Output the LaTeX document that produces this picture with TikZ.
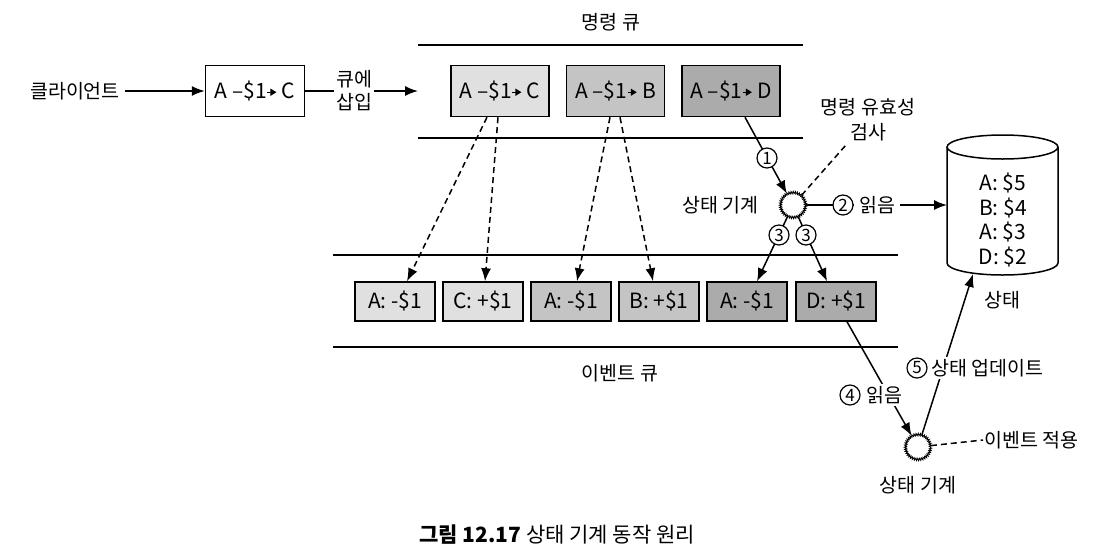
\documentclass[tikz,border=0pt]{standalone}
\usepackage{fontspec}
\setmainfont{Noto Sans CJK KR}
\usetikzlibrary{arrows.meta,decorations.pathmorphing}
\pgfdeclarelayer{bg}
\pgfsetlayers{bg,main}
\definecolor{lightg}{gray}{0.88}
\definecolor{medg}{gray}{0.77}
\definecolor{darkg}{gray}{0.67}
\newcommand\inarr{\tikz[baseline=-0.55ex]\draw[line width=1.2pt,-{Triangle[length=6pt,width=7pt]}] (0pt,0pt)--(9pt,0pt);}
\tikzset{
  kr/.style={font=\fontsize{19.5}{23}\selectfont},
  lat/.style={font=\fontsize{21}{25}\selectfont},
  box/.style={draw, line width=1.5pt, lat, inner sep=0pt},
  cmdbox/.style={box, minimum width=98pt, minimum height=51pt},
  evbox/.style={box, minimum width=80pt, minimum height=39pt},
  arr/.style={line width=1.5pt, -{Latex[length=13pt,width=10pt]}},
  dsh/.style={line width=1.5pt, dash pattern=on 6pt off 4pt},
  dsharr/.style={dsh, -{Latex[length=13pt,width=10pt]}},
  qline/.style={line width=1.6pt},
  circnum/.style={circle, draw, fill=white, minimum size=20pt, inner sep=0pt, line width=1.2pt, font=\fontsize{17}{17}\selectfont},
  spiky/.style={circle, draw, fill=white, minimum size=25pt, inner sep=0pt, line width=0.9pt, decorate, decoration={zigzag, segment length=2pt, amplitude=1.1pt}},
  wlab/.style={kr, fill=white, inner sep=2pt}
}
\begin{document}
\begin{tikzpicture}[x=1pt, y=-1pt]
\begin{pgfonlayer}{bg}
\fill[white] (0,0) rectangle (1110,558);
\end{pgfonlayer}
\useasboundingbox (0,0) rectangle (1110,558);

% client and first command
\node[kr, inner sep=5pt] (client) at (75,91) {클라이언트};
\node[box, minimum width=99pt, minimum height=51pt] (cmd0) at (255,91) {A –\$1\inarr{} C};
\node[kr, align=center, inner sep=2pt] (ins) at (354,91) {큐에\\삽입};
\coordinate (qin) at (418,91);

% command queue
\node[kr] (cmdq) at (611,22) {명령 큐};
\draw[qline] (418,45) -- (803,45);
\draw[qline] (418,138) -- (803,138);
\node[cmdbox, fill=lightg] (cC) at (500,91) {A –\$1\inarr{} C};
\node[cmdbox, fill=medg] (cB) at (615.5,91) {A –\$1\inarr{} B};
\node[cmdbox, fill=darkg] (cD) at (731,91) {A –\$1\inarr{} D};

% event queue
\draw[qline] (333,255) -- (898,255);
\draw[qline] (333,347) -- (898,347);
\node[kr] (evq) at (620,373) {이벤트 큐};
\node[evbox, fill=lightg] (e1) at (395,301.5) {A: -\$1};
\node[evbox, fill=lightg] (e2) at (483,301.5) {C: +\$1};
\node[evbox, fill=medg] (e3) at (571,301.5) {A: -\$1};
\node[evbox, fill=medg] (e4) at (659,301.5) {B: +\$1};
\node[evbox, fill=darkg] (e5) at (747,301.5) {A: -\$1};
\node[evbox, fill=darkg] (e6) at (836,301.5) {D: +\$1};

% upper state machine
\node[spiky] (sm1) at (793,205) {};
\node[kr, anchor=east] (sm1l) at (762,205) {상태 기계};
\node[kr, align=center, inner sep=2pt, font=\fontsize{19.5}{25}\selectfont] (valid) at (868,120) {명령 유효성\\검사};
\node[circnum] (c1) at (767,158) {1};
\node[circnum] (c2) at (843,205) {2};
\node[wlab, inner sep=5pt] (read1) at (877,205) {읽음};
\node[circnum] (c3a) at (779,235) {3};
\node[circnum] (c3b) at (806,235) {3};

% state store (cylinder)
\draw[line width=1.5pt, fill=white] (947,147) -- (947,263) arc[start angle=180, end angle=360, x radius=55.5pt, y radius=12pt] -- (1058,147);
\draw[line width=1.5pt] (1002.5,147) ellipse [x radius=55.5pt, y radius=12pt];
\node[lat, align=center, font=\fontsize{21}{24.7}\selectfont] (store) at (1003,220) {A: \$5\\B: \$4\\A: \$3\\D: \$2};
\coordinate (cylL) at (947,205);
\coordinate (cylB) at (973,274);
\node[kr] (storel) at (1002,300) {상태};

% lower state machine
\node[spiky] (sm2) at (918,447) {};
\node[kr] (sm2l) at (918,485) {상태 기계};
\node[circnum] (c4) at (850,395) {4};
\node[wlab] (read2) at (884,395) {읽음};
\node[circnum] (c5) at (917,368) {5};
\node[wlab, anchor=west] (upd) at (929,368) {상태 업데이트};
\node[kr, anchor=west, inner sep=1pt] (apply) at (983,440) {이벤트 적용};

% caption
\node[font=\fontsize{21}{25}\selectfont] (cap) at (557,535) {{\bfseries 그림 12.17} 상태 기계 동작 원리};

\begin{pgfonlayer}{bg}
\draw[arr] (client) -- (cmd0);
\draw[line width=1.5pt] (cmd0) -- (ins);
\draw[arr] (ins) -- (qin);
\draw[dsharr] ([xshift=-13pt]cC.south) -- ([xshift=12pt]e1.north);
\draw[dsharr] ([xshift=-2pt]cC.south) -- ([xshift=2pt]e2.north);
\draw[dsharr] ([xshift=-5.5pt]cB.south) -- ([xshift=6pt]e3.north);
\draw[dsharr] ([xshift=4.5pt]cB.south) -- ([xshift=-6pt]e4.north);
\draw[arr] ([xshift=14pt]cD.south) -- (sm1);
\draw[dsh] (sm1) -- (valid);
\draw[arr] (sm1) -- (cylL);
\draw[arr] (sm1) -- ([xshift=10pt]e5.north);
\draw[arr] (sm1) -- ([xshift=-9pt]e6.north);
\draw[arr] ([xshift=11pt]e6.south) -- (sm2);
\draw[arr] (sm2) -- (cylB);
\draw[dsh] (sm2) -- (apply.west);
\end{pgfonlayer}
\end{tikzpicture}
\end{document}
